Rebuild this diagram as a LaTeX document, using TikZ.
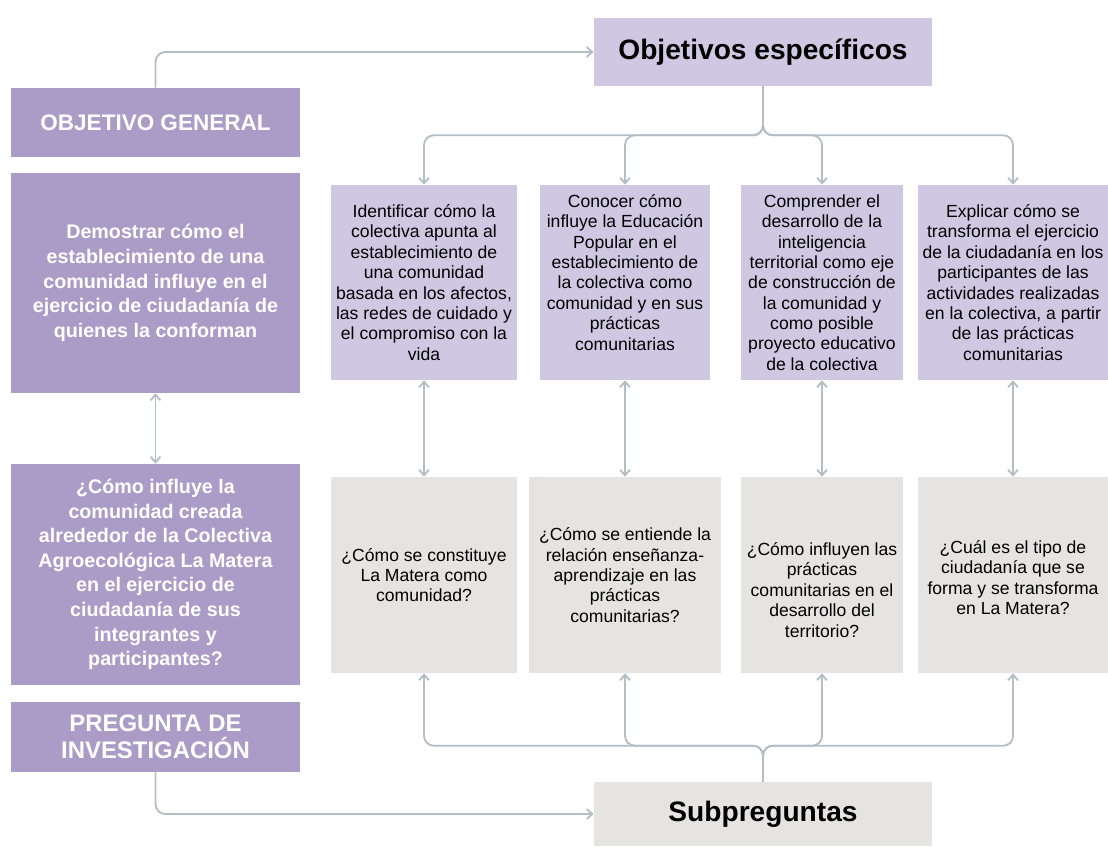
\documentclass[tikz,border=0pt]{standalone}
\usepackage{fontspec}
\setmainfont{Liberation Sans}
\usetikzlibrary{arrows.meta, positioning}
\definecolor{darkpurple}{HTML}{AB9CC7}
\definecolor{lightpurple}{HTML}{D0C8E3}
\definecolor{lightgrey}{HTML}{E6E3E3}
\definecolor{linegrey}{HTML}{B3BEC5}
\newcommand{\pxu}{0.025cm}

\begin{document}
\begin{tikzpicture}[x=\pxu, y=-\pxu, >={Straight Barb[length=4pt, width=7pt]},
    boxsize/.style 2 args={minimum width=#1*\pxu, minimum height=#2*\pxu},
    genbox/.style={fill=darkpurple, text=white, align=center, inner sep=0pt},
    gentitle/.style={genbox, font=\fontsize{17}{19.5}\selectfont\bfseries},
    gentext/.style={genbox, font=\fontsize{14}{17.5}\selectfont\bfseries},
    objbox/.style={fill=lightpurple, align=center, inner sep=0pt,
        font=\fontsize{12.5}{14.5}\selectfont},
    subbox/.style={fill=lightgrey, align=center, inner sep=0pt,
        font=\fontsize{12.5}{14.5}\selectfont},
    headbox/.style={inner sep=0pt, font=\fontsize{20}{24}\selectfont\bfseries},
    conn/.style={draw=linegrey, line width=1.3pt, rounded corners=7pt}]
    % page
    \useasboundingbox[fill=white] (0,0) rectangle (1108,846);
    % left column
    \node[gentitle, font=\fontsize{16}{19.5}\selectfont\bfseries, boxsize={289}{69}]
        (og) at (155.5,122.5) {OBJETIVO GENERAL};
    \node[gentext, boxsize={289}{220}] (dem) at (155.5,283) {Demostrar cómo el\\
        establecimiento de una\\ comunidad influye en el\\
        ejercicio de ciudadanía de\\ quienes la conforman};
    \node[gentext, boxsize={289}{221}] (preg) at (155.5,574.5) {¿Cómo influye la\\
        comunidad creada\\ alrededor de la Colectiva\\ Agroecológica La Matera\\
        en el ejercicio de\\ ciudadanía de sus\\ integrantes y\\ participantes?};
    \node[gentitle, boxsize={289}{70}] (pi) at (155.5,737) {PREGUNTA DE\\ INVESTIGACIÓN};
    % headers
    \node[headbox, fill=lightpurple, boxsize={338}{68}] (oe) at (763,52) {Objetivos específicos};
    \node[headbox, fill=lightgrey, boxsize={338}{64}] (sp) at (763,814) {Subpreguntas};
    % specific objectives
    \node[objbox, boxsize={186}{195}] (o1) at (424,282.5) {Identificar cómo la\\
        colectiva apunta al\\ establecimiento de\\ una comunidad\\
        basada en los afectos,\\ las redes de cuidado y\\ el compromiso con la\\ vida};
    \node[objbox, boxsize={170}{195}] (o2) at (625,282.5) {Conocer cómo\\
        influye la Educación\\ Popular en el\\ establecimiento de\\
        la colectiva como\\ comunidad y en sus\\ prácticas\\ comunitarias\\ \mbox{}};
    \node[objbox, boxsize={162}{195}] (o3) at (822,282.5) {Comprender el\\
        desarrollo de la\\ inteligencia\\ territorial como eje\\
        de construcción de\\ la comunidad y\\ como posible\\
        proyecto educativo\\ de la colectiva};
    \node[objbox, boxsize={190}{195}] (o4) at (1013,282.5) {Explicar cómo se\\
        transforma el ejercicio\\ de la ciudadanía en los\\ participantes de las\\
        actividades realizadas\\ en la colectiva, a partir\\ de las prácticas\\ comunitarias};
    % sub-questions
    \node[subbox, boxsize={186}{196}] (s1) at (424,575) {¿Cómo se constituye\\
        La Matera como\\ comunidad?};
    \node[subbox, boxsize={192}{196}] (s2) at (625,575) {¿Cómo se entiende la\\
        relación enseñanza-\\ aprendizaje en las\\ prácticas\\ comunitarias?};
    \node[subbox, boxsize={162}{196}] (s3) at (822,575) {\mbox{}\\[16pt]¿Cómo influyen las\\
        prácticas\\ comunitarias en el\\ desarrollo del\\ territorio?};
    \node[subbox, boxsize={190}{196}] (s4) at (1013,575) {\mbox{}\\[-1.5pt]¿Cuál es el tipo de\\
        ciudadanía que se\\ forma y se transforma\\ en La Matera?};
    % connectors
    \draw[conn, ->] (og.north) |- (oe.west);
    \draw[conn, ->] (pi.south) |- (sp.west);
    \draw[conn, <->] (dem.south) -- (preg.north);
    \foreach \n in {o1,o2,o3,o4}
        \draw[conn, ->] (oe.south) -- ++(0,49) -| (\n.north);
    \foreach \i in {1,...,4}
        \draw[conn, <->] (o\i.south) -- (s\i.north);
    \foreach \n in {s1,s2,s3,s4}
        \draw[conn, ->] (sp.north) -- ++(0,-36) -| (\n.south);
\end{tikzpicture}
\end{document}
